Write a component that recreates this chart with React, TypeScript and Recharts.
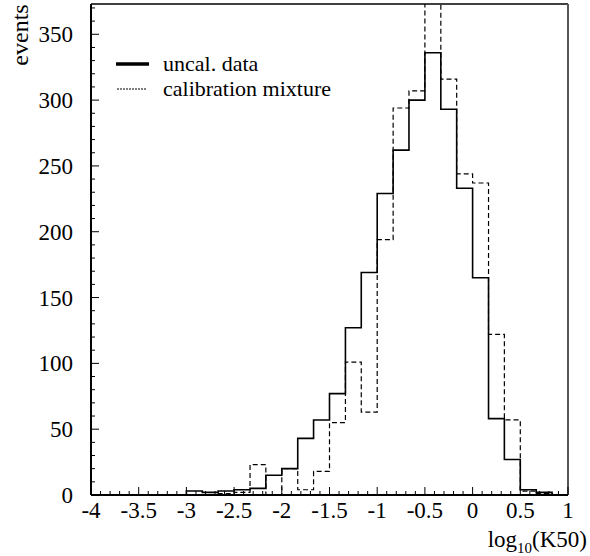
import { ComposedChart, Line, XAxis, YAxis, Legend, ReferenceLine, Label } from 'recharts';

const FONT = '"Liberation Serif", "DejaVu Serif", serif';

// bin edges of log10(K50), bin width 1/6
const binEdges = [
  -4, -3.833, -3.667, -3.5, -3.333, -3.167,
  -3, -2.833, -2.667, -2.5, -2.333, -2.167,
  -2, -1.833, -1.667, -1.5, -1.333, -1.167,
  -1, -0.833, -0.667, -0.5, -0.333, -0.167,
  0, 0.167, 0.333, 0.5, 0.667, 0.833, 1,
];

// events per bin
const uncalData = [
  0, 0, 0, 0, 0, 0,
  3, 2, 3, 4, 5, 15,
  20, 43, 57, 77, 127, 169,
  229, 262, 300, 336, 293, 233,
  165, 58, 27, 4, 2, 0,
];

const calibMixture = [
  0, 0, 0, 0, 0, 0,
  0, 0, 1, 2, 23, 0,
  20, 4, 18, 55, 101, 63,
  194, 294, 307, 420, 316, 244,
  237, 122, 57, 3, 1, 0,
];

const xMajorTicks = [-4, -3.5, -3, -2.5, -2, -1.5, -1, -0.5, 0, 0.5, 1];
const yMajorTicks = [0, 50, 100, 150, 200, 250, 300, 350];
const Y_MAX = 373;

const chartData = binEdges.map((x, i) => ({
  x,
  uncal: uncalData[Math.min(i, uncalData.length - 1)],
  calib: calibMixture[Math.min(i, calibMixture.length - 1)],
}));

// minor ticks: 5 per major interval on x, every 10 events on y
const xTicks: number[] = [];
xMajorTicks.forEach((t, i) => {
  if (i === xMajorTicks.length - 1) {
    xTicks.push(t);
    return;
  }
  for (let k = 0; k < 5; k++) xTicks.push(Math.round((t + k * 0.1) * 10) / 10);
});
const yTicks: number[] = [];
for (let v = 0; v <= 370; v += 10) yTicks.push(v);

const isMajor = (list: number[], v: number) => list.some((t) => Math.abs(t - v) < 1e-6);

function XTick(props: any) {
  const { x, y, payload } = props;
  const major = isMajor(xMajorTicks, payload.value);
  return (
    <g>
      <line x1={x} x2={x} y1={y} y2={y - (major ? 8 : 4)} stroke="#000" strokeWidth={1} />
      {major && (
        <text x={x} y={y + 23} textAnchor="middle" fontSize={23} fontFamily={FONT} fill="#000">
          {payload.value}
        </text>
      )}
    </g>
  );
}

function YTick(props: any) {
  const { x, y, payload } = props;
  const major = isMajor(yMajorTicks, payload.value);
  return (
    <g>
      <line x1={x} x2={x + (major ? 8 : 4)} y1={y} y2={y} stroke="#000" strokeWidth={1} />
      {major && (
        <text x={x - 18} y={y} dy="0.35em" textAnchor="end" fontSize={23} fontFamily={FONT} fill="#000">
          {payload.value}
        </text>
      )}
    </g>
  );
}

function XLabel(props: any) {
  const { viewBox } = props;
  return (
    <text
      x={viewBox.x + viewBox.width + 19}
      y={viewBox.y + 52}
      textAnchor="end"
      fontSize={23}
      fontFamily={FONT}
      fill="#000"
    >
      <tspan>log</tspan>
      <tspan fontSize={15} dy={6}>10</tspan>
      <tspan dy={-6}>(K50)</tspan>
    </text>
  );
}

function YLabel() {
  return (
    <text
      x={28}
      y={35}
      transform="rotate(-90, 28, 35)"
      textAnchor="middle"
      fontSize={24}
      fontFamily={FONT}
      fill="#000"
    >
      events
    </text>
  );
}

function LegendBox() {
  return (
    <svg width={300} height={62} style={{ display: 'block' }}>
      <line x1={6} x2={39} y1={14} y2={14} stroke="#000" strokeWidth={3.5} />
      <text x={53} y={21} fontSize={22} fontFamily={FONT} fill="#000">
        uncal. data
      </text>
      <line x1={7} x2={37} y1={39} y2={39} stroke="#000" strokeWidth={1} strokeDasharray="2 1" />
      <text x={53} y={46} fontSize={22} fontFamily={FONT} fill="#000">
        calibration mixture
      </text>
    </svg>
  );
}

export default function App() {
  return (
    <div style={{ position: 'absolute', left: 0, top: 0 }}>
      <ComposedChart
        width={590}
        height={556}
        data={chartData}
        margin={{ top: 4, right: 22, bottom: 0, left: 0 }}
      >
        <XAxis
          dataKey="x"
          type="number"
          domain={[-4, 1]}
          ticks={xTicks}
          interval={0}
          tick={<XTick />}
          tickLine={false}
          tickSize={0}
          tickMargin={0}
          height={61}
          axisLine={{ stroke: '#000', strokeWidth: 2 }}
        >
          <Label content={<XLabel />} />
        </XAxis>
        <YAxis
          type="number"
          domain={[0, Y_MAX]}
          allowDataOverflow
          ticks={yTicks}
          interval={0}
          tick={<YTick />}
          tickLine={false}
          tickSize={0}
          tickMargin={0}
          width={91}
          axisLine={{ stroke: '#000', strokeWidth: 2 }}
        >
          <Label content={<YLabel />} />
        </YAxis>
        <ReferenceLine y={Y_MAX} stroke="#000" strokeWidth={1.5} />
        <ReferenceLine x={1} stroke="#555" strokeWidth={2} />
        <Line
          type="stepAfter"
          dataKey="calib"
          stroke="#000"
          strokeWidth={1.2}
          strokeDasharray="5 3"
          dot={false}
          isAnimationActive={false}
        />
        <Line
          type="stepAfter"
          dataKey="uncal"
          stroke="#000"
          strokeWidth={1.6}
          dot={false}
          isAnimationActive={false}
        />
        <Legend
          layout="vertical"
          align="center"
          verticalAlign="middle"
          wrapperStyle={{ left: 110, top: 50, width: 300 }}
          content={() => <LegendBox />}
        />
      </ComposedChart>
    </div>
  );
}
